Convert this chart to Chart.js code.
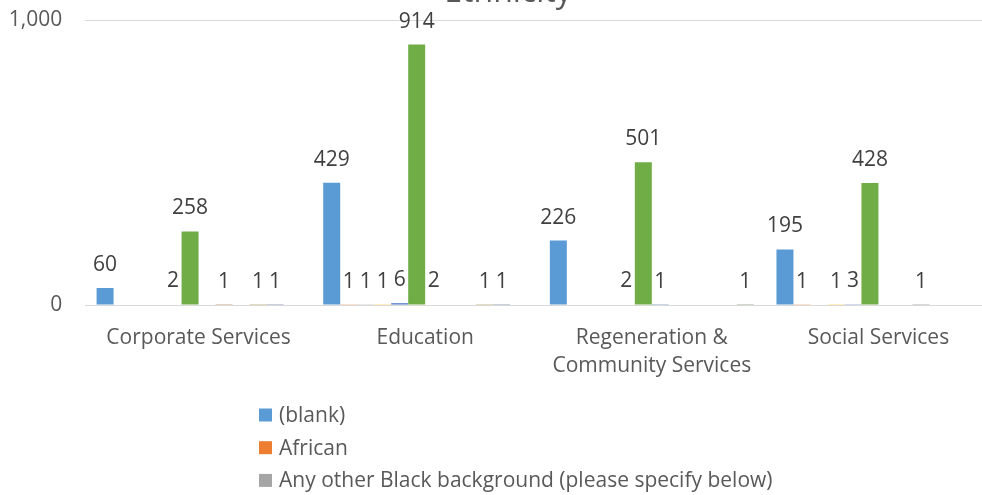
<!DOCTYPE html>
<html>
<head>
<meta charset="utf-8">
<script src="https://cdn.jsdelivr.net/npm/chart.js@4/dist/chart.umd.min.js"></script>
<style>
  html, body { margin: 0; padding: 0; background: #ffffff; overflow: hidden; width: 982px; height: 495px; }
  #wrap { position: absolute; left: 0; top: -30px; width: 1016px; height: 900px; }
</style>
</head>
<body>
<div id="wrap"><canvas id="c" width="1016" height="900"></canvas></div>
<script>
// ---- data ----
const chartTitle = "Ethnicity";
const categories = ["Corporate Services", "Education", ["Regeneration &", "Community Services"], "Social Services"];
const yTickValues = [0, 1000];

const seriesNames = [
  "(blank)",
  "African",
  "Any other Black background (please specify below)",
  "Series 4", "Series 5", "Series 6", "Series 7", "Series 8",
  "Series 9", "Series 10", "Series 11", "Series 12"
];
const blankValues      = [60, 429, 226, 195];
const africanValues    = [null, 1, null, 1];
const otherBlackValues = [null, 1, null, null];
const series4Values    = [null, 1, null, 1];
const series5Values    = [2, 6, 2, 3];
const series6Values    = [258, 914, 501, 428];
const series7Values    = [null, 2, 1, null];
const series8Values    = [1, null, null, null];
const series9Values    = [null, null, null, 1];
const series10Values   = [1, 1, null, null];
const series11Values   = [1, 1, null, null];
const series12Values   = [null, null, 1, null];

const seriesValues = [blankValues, africanValues, otherBlackValues, series4Values, series5Values,
  series6Values, series7Values, series8Values, series9Values, series10Values, series11Values, series12Values];
const seriesColors = ["#5B9BD5", "#ED7D31", "#A5A5A5", "#FFC000", "#4472C4", "#70AD47",
  "#255E91", "#9E480E", "#636363", "#997300", "#264478", "#43682B"];

const FONT = "'Open Sans', 'DejaVu Sans', sans-serif";
const LABEL_SIZE = 21;

const dataLabelPlugin = {
  id: 'dataLabels',
  afterDatasetsDraw(chart) {
    const ctx = chart.ctx;
    ctx.save();
    ctx.font = LABEL_SIZE + "px " + FONT;
    ctx.fillStyle = "#404040";
    ctx.textAlign = "center";
    ctx.textBaseline = "alphabetic";
    chart.data.datasets.forEach((ds, di) => {
      const meta = chart.getDatasetMeta(di);
      meta.data.forEach((el, i) => {
        const v = ds.data[i];
        if (v === null || v === undefined) return;
        ctx.fillText(String(v), el.x, el.y - 17);
      });
    });
    ctx.restore();
  }
};

const legendPlugin = {
  id: 'vertLegend',
  afterDraw(chart) {
    const ctx = chart.ctx;
    const base = chart.chartArea.bottom + 110;
    ctx.save();
    ctx.font = LABEL_SIZE + "px " + FONT;
    ctx.textAlign = "left";
    ctx.textBaseline = "middle";
    chart.data.datasets.forEach((ds, i) => {
      const cy = base + i * 32.7;
      ctx.fillStyle = ds.backgroundColor;
      ctx.fillRect(259, cy - 6.5, 13, 13);
      ctx.fillStyle = "#595959";
      ctx.fillText(ds.label, 279, cy + 1);
    });
    ctx.restore();
  }
};

new Chart(document.getElementById('c'), {
  type: 'bar',
  data: {
    labels: categories,
    datasets: seriesNames.map((name, i) => ({
      label: name,
      data: seriesValues[i],
      backgroundColor: seriesColors[i],
      borderWidth: 0,
      categoryPercentage: 0.9,
      barPercentage: 1.0
    }))
  },
  options: {
    responsive: false,
    animation: false,
    events: [],
    layout: { padding: { top: 4, left: 0, right: 0, bottom: 485 } },
    plugins: {
      legend: { display: false },
      tooltip: { enabled: false },
      title: {
        display: true,
        text: chartTitle,
        color: "#595959",
        font: { family: FONT, size: 32, weight: 'normal', lineHeight: 1.2 },
        padding: { top: 0, bottom: 7.6 }
      }
    },
    scales: {
      x: {
        grid: { display: false, drawTicks: false },
        border: { display: false },
        ticks: {
          color: "#595959",
          font: { family: FONT, size: LABEL_SIZE, lineHeight: 28 / LABEL_SIZE },
          padding: 19,
          maxRotation: 0,
          autoSkip: false
        },
        afterFit(scale) { scale.height = 80; }
      },
      y: {
        min: 0,
        max: 1000,
        afterBuildTicks(scale) { scale.ticks = yTickValues.map(v => ({ value: v })); },
        grid: { color: "#d9d9d9", lineWidth: 1, drawTicks: false },
        border: { display: false },
        ticks: {
          color: "#595959",
          font: { family: FONT, size: LABEL_SIZE },
          padding: 23,
          callback: (v) => Number(v).toLocaleString('en-US')
        },
        afterFit(scale) { scale.width = 85.25; }
      },
      yRightSpace: {
        position: 'right',
        display: true,
        grid: { display: false, drawTicks: false },
        border: { display: false },
        ticks: { display: false },
        afterFit(scale) { scale.width = 24.25; }
      }
    }
  },
  plugins: [dataLabelPlugin, legendPlugin]
});
</script>
</body>
</html>
